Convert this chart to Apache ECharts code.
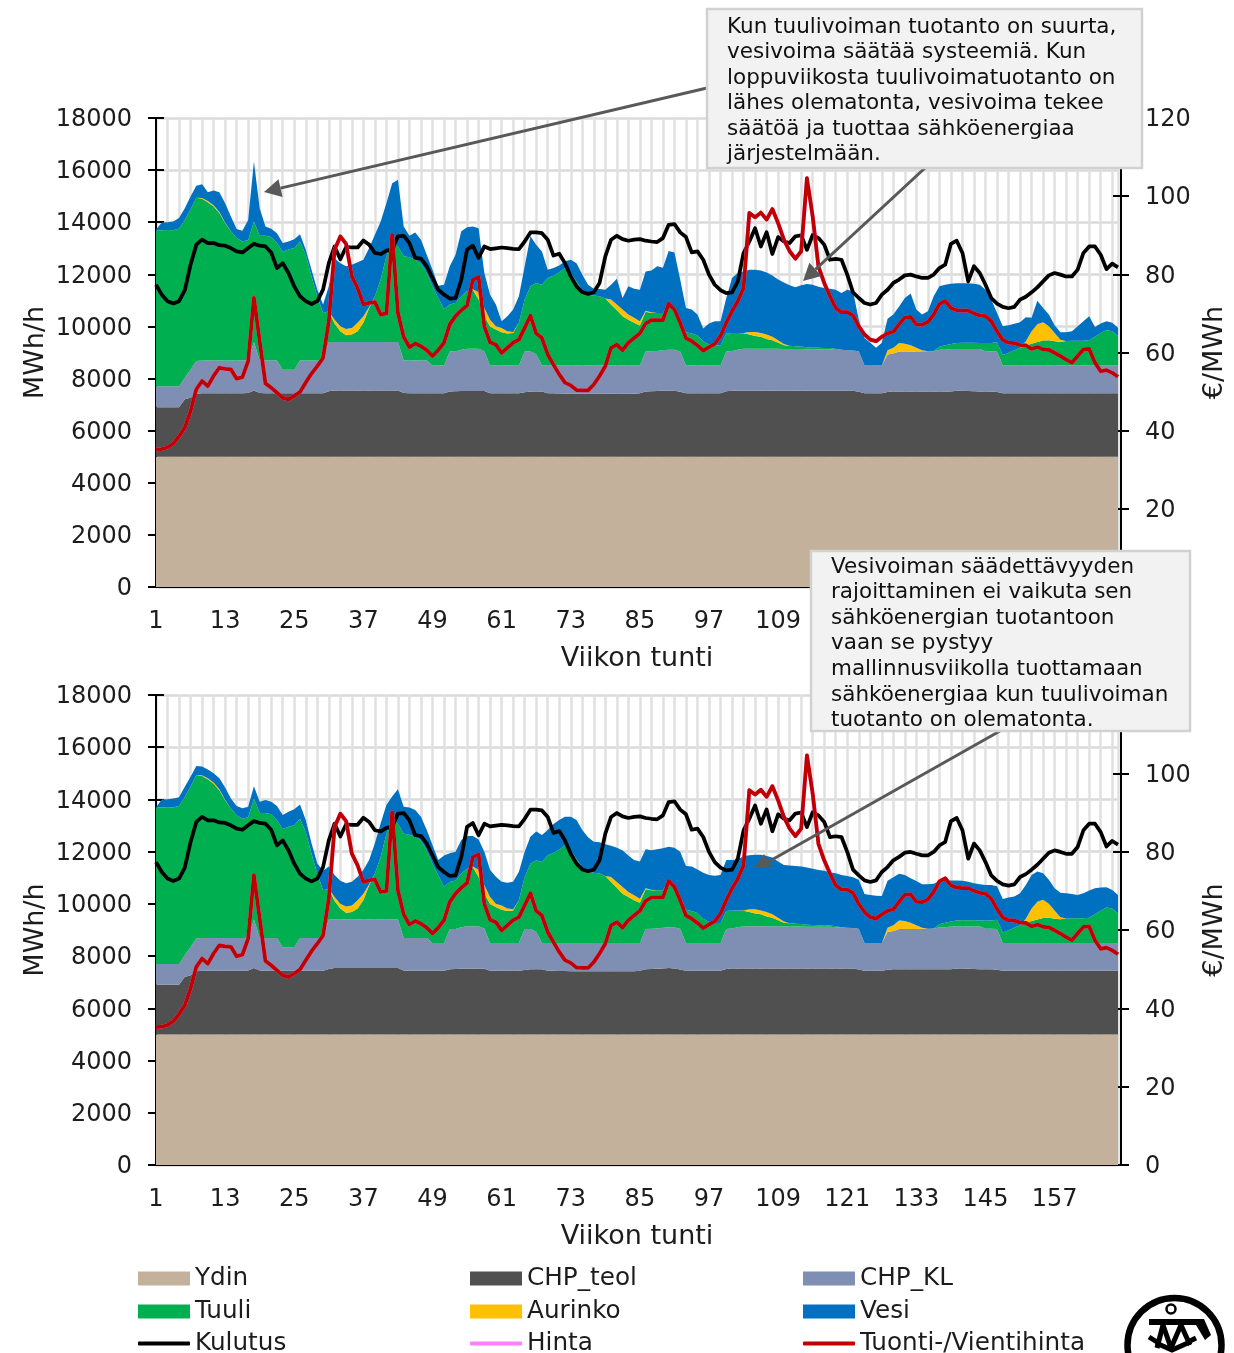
<!DOCTYPE html>
<html><head><meta charset="utf-8">
<style>html,body{margin:0;padding:0;background:#fff;overflow:hidden}#c{width:1234px;height:1353px}</style>
<script src="https://cdn.jsdelivr.net/npm/echarts@6/dist/echarts.min.js"></script>
</head><body><div id="c"></div>
<script>
const hours = Array.from({length:168},(_,i)=>String(i+1));
const ydin = new Array(168).fill(5000);
const teolTop = [
6900,6900,6900,6900,6900,7210,7260,7420,7440,7440,
7440,7440,7440,7440,7440,7440,7450,7540,7450,7440,
7440,7440,7440,7440,7440,7440,7440,7440,7440,7440,
7510,7540,7540,7540,7540,7540,7540,7540,7540,7540,
7540,7540,7540,7450,7440,7440,7440,7440,7440,7440,
7440,7500,7510,7520,7520,7520,7520,7520,7440,7440,
7440,7440,7440,7440,7470,7500,7500,7500,7440,7440,
7430,7430,7420,7420,7420,7420,7420,7420,7420,7420,
7420,7420,7420,7420,7440,7500,7510,7520,7530,7540,
7530,7490,7440,7440,7440,7440,7440,7440,7440,7510,
7530,7530,7530,7530,7530,7530,7530,7530,7530,7530,
7530,7530,7530,7530,7530,7530,7530,7530,7530,7530,
7530,7530,7490,7440,7440,7440,7440,7480,7500,7500,
7500,7500,7500,7500,7500,7500,7500,7500,7500,7530,
7530,7520,7510,7500,7500,7500,7480,7440,7440,7440,
7440,7440,7440,7440,7440,7440,7440,7440,7440,7440,
7440,7440,7440,7440,7440,7440,7440,7440];
const klTop = [
7700,7700,7700,7700,7700,8030,8350,8670,8690,8690,
8690,8690,8690,8690,8690,8690,8700,9400,8690,8690,
8690,8690,8340,8340,8340,8690,8690,8690,8690,8690,
9400,9400,9400,9400,9400,9400,9400,9400,9400,9400,
9400,9400,9400,8690,8690,8690,8690,8690,8500,8500,
8500,9040,9040,9110,9140,9140,9140,9050,8500,8500,
8500,8500,8500,8500,9040,9040,8930,8500,8500,8500,
8500,8500,8500,8500,8500,8500,8500,8500,8500,8500,
8500,8500,8500,8500,8500,9040,9050,9060,9090,9110,
9110,9040,8500,8500,8500,8500,8500,8500,8500,9040,
9060,9110,9140,9140,9140,9140,9140,9140,9140,9130,
9130,9130,9130,9120,9120,9120,9120,9120,9110,9110,
9090,9080,9050,8500,8500,8500,8500,8920,8960,9040,
9040,9040,9040,9050,9050,9050,9110,9110,9130,9130,
9130,9130,9130,9130,9050,9050,9040,8500,8500,8500,
8500,8500,8500,8500,8500,8500,8500,8500,8500,8500,
8500,8500,8500,8500,8500,8500,8500,8500];
const tuuliTop = [
13690,13690,13700,13690,13760,14090,14500,14940,14900,14770,
14600,14350,13970,13650,13390,13260,13320,14030,13480,13480,
13430,13200,12870,12950,13010,13260,12750,11920,11160,10520,
10580,10110,9820,9660,9690,9820,10140,10710,11160,11800,
12690,13320,13070,12690,12660,12560,12430,12050,11540,11090,
10670,10840,10900,11160,11350,11410,11030,10390,10000,9880,
9780,9730,9750,10140,11030,11540,11670,11600,11860,11950,
12080,12240,12050,11730,11410,11220,11190,11160,11070,10840,
10620,10390,10260,10140,10040,10560,10520,10520,10520,10900,
10670,10140,9780,9730,9650,9430,9310,9270,9270,9730,
9750,9750,9740,9690,9630,9600,9520,9470,9370,9280,
9260,9240,9230,9200,9190,9180,9170,9170,9140,9110,
9090,9080,9050,8500,8500,8500,8500,8880,8960,9040,
9040,9040,9040,9050,9050,9060,9220,9280,9330,9360,
9370,9370,9370,9360,9360,9360,9390,8900,8990,9090,
9180,9270,9340,9400,9460,9470,9430,9410,9440,9450,
9450,9450,9470,9600,9750,9860,9820,9630];
const aurinko = [
0,0,0,0,0,0,0,0,30,40,
50,40,20,0,0,0,0,0,0,0,
0,0,0,0,0,0,0,0,0,0,
0,150,190,240,250,320,250,40,0,0,
0,0,0,0,0,0,0,0,0,0,
0,0,0,0,0,20,280,320,260,130,
160,90,40,0,0,0,0,0,0,0,
0,0,0,0,0,0,0,0,0,190,
220,260,200,190,160,40,20,0,0,0,
0,0,0,0,0,0,0,0,0,0,
0,0,10,100,160,150,170,130,100,50,
0,0,0,0,0,0,0,0,0,0,
0,0,0,0,0,0,0,170,220,320,
300,240,140,40,0,0,0,0,0,0,
0,0,0,0,0,0,0,0,0,0,
0,160,480,680,700,540,320,80,0,0,
0,0,0,0,0,0,0,0];
const vesiTopA = [
13720,13990,14000,14030,14160,14540,14990,15400,15460,15150,
15220,15150,14730,14220,13740,13670,14090,16330,14540,13840,
13750,13580,13200,13260,13350,13540,12940,12180,11410,10840,
11540,12620,12430,12310,12370,12460,12560,13010,13520,14030,
14730,15500,15630,13840,13480,13610,13330,12750,12180,11560,
11600,12310,12750,13650,13810,13840,13770,12050,11220,10840,
10200,10390,10650,11160,12310,13460,13140,12880,12180,12240,
12340,12500,12560,12430,11990,11600,11450,11440,11410,11600,
11830,11090,11540,11450,11410,12110,12150,12310,12250,12900,
12840,11800,10710,10650,10460,9920,10110,10200,10200,11090,
11860,12050,12110,12180,12180,12150,12070,11960,11800,11690,
11580,11500,11580,11630,11600,11520,11480,11450,11410,11280,
11410,11350,10260,9560,9370,9180,9370,10260,10460,10770,
11090,11260,10650,10460,10580,11160,11540,11600,11640,11660,
11660,11660,11640,11600,11410,11030,10520,10010,10050,10100,
10160,10350,10330,10990,10710,10460,10050,9780,9780,9820,
10010,10200,10390,9980,10110,10200,10140,9950];
const vesiTopB = [
13700,14000,14010,14040,14080,14490,14870,15280,15260,15150,
15000,14810,14460,14040,13750,13660,13720,14510,13910,13980,
13910,13750,13400,13530,13620,13810,13210,12320,11550,11270,
11430,11110,10890,10790,10850,11040,11300,11680,12320,13090,
13790,14110,14390,13720,13690,13600,13340,12830,12260,11680,
11850,11940,12000,12450,12600,12600,12470,12000,11300,11040,
10850,10810,10850,11230,12000,12570,12770,12640,12830,13060,
13210,13340,13340,13210,12830,12550,12380,12360,12280,12230,
12150,12040,11850,11680,11620,12090,12050,12090,12130,12190,
12150,12000,11450,11430,11320,11190,11110,11080,11110,11680,
11680,11700,11830,11860,11880,11880,11830,11780,11620,11490,
11470,11450,11430,11390,11350,11300,11270,11210,11170,11110,
11070,11020,10920,10380,10340,10310,10300,10850,11020,11150,
11110,10980,10880,10750,10750,10770,10880,10900,10900,10900,
10890,10850,10790,10750,10720,10720,10680,10190,10240,10280,
10410,10720,11110,11240,11170,10920,10600,10430,10410,10380,
10340,10410,10510,10600,10630,10640,10530,10340];
const kulutus = [
11600,11220,10970,10880,10970,11390,12370,13140,13330,13200,
13200,13120,13100,13010,12880,12840,13010,13170,13100,13070,
12840,12240,12430,12050,11540,11160,10970,10860,10970,11410,
12430,13070,12580,13050,13030,13030,13300,13140,12820,12780,
12910,12950,13460,13480,13200,12630,12600,12310,11860,11410,
11220,11070,11090,11800,12950,13100,12630,13070,12970,13000,
13030,13010,12980,12970,13260,13610,13610,13580,13330,12720,
12790,12430,11920,11540,11320,11250,11310,11670,12690,13330,
13480,13350,13290,13330,13350,13290,13260,13240,13390,13900,
13930,13610,13430,12840,12880,12560,11990,11600,11390,11280,
11310,11730,12820,13260,13770,13070,13620,12780,13430,13260,
13200,13460,13500,12940,13510,13390,13140,12560,12590,12560,
11990,11310,11090,10900,10840,10900,11220,11410,11670,11800,
11960,11990,11920,11860,11860,11990,12240,12370,13170,13290,
12820,11730,12310,12050,11600,11090,10880,10750,10700,10750,
11030,11140,11310,11500,11730,11960,12050,11990,11920,11920,
12180,12820,13070,13070,12750,12200,12410,12270];
const tuontiHinta = [
35.2,35.3,35.7,36.7,38.5,40.8,45,50.6,52.7,51.4,
54,56.1,55.8,55.7,53.3,53.7,57.8,74,62.9,52.1,
51,49.7,48.4,48,48.9,49.9,52.3,54.6,56.5,58.6,
68,86.3,89.7,87.8,79.5,76.5,72.3,72.7,72.9,69.7,
70,90.1,70.1,64,61.4,62.3,61.6,60.6,59.1,60.6,
62.5,67.2,69.3,70.8,72,78.6,79.3,66.7,62.6,62,
59.9,61.2,62.5,63.3,66.3,69.4,64.9,63.7,59.5,56.9,
54.4,52.3,51.6,50.4,50.3,50.3,51.8,54,56.5,61.2,
62,60.6,62.5,63.7,64.9,67.4,68.3,68.3,68.3,72.5,
71,67.6,63.7,62.9,61.8,60.5,61.4,62.2,64.2,67.6,
70.6,73.1,76.5,95.7,94.6,95.8,94,96.7,93.1,88.9,
85.9,84,85.9,104.6,94.8,82,77.8,74.4,71.4,70.3,
70.3,69.5,66.7,64.6,63.3,62.9,64,64.9,65.3,67.2,
69,69.1,67.2,67.1,67.8,69.7,72.4,73.2,71.4,70.8,
70.7,70.7,70,69.5,69.3,68,65.4,63.2,62.5,62.4,
61.9,61.8,60.9,61.4,60.8,60.7,59.9,59.1,58.2,57.4,
59.1,60.8,60.9,57.4,55.2,55.5,54.8,53.8];
const hinta = tuontiHinta;

const note1 = ['Kun tuulivoiman tuotanto on suurta,','vesivoima säätää systeemiä. Kun','loppuviikosta tuulivoimatuotanto on','lähes olematonta, vesivoima tekee','säätöä ja tuottaa sähköenergiaa','järjestelmään.'];
const note2 = ['Vesivoiman säädettävyyden','rajoittaminen ei vaikuta sen','sähköenergian tuotantoon','vaan se pystyy','mallinnusviikolla tuottamaan','sähköenergiaa kun tuulivoiman','tuotanto on olematonta.'];

const FONT='"DejaVu Sans", Verdana, sans-serif', INK='#1c1c1c';
const diff=(a,b)=>a.map((v,i)=>Math.max(0,v-b[i]));
const chpTeol=diff(teolTop,ydin), chpKL=diff(klTop,teolTop), tuuli=diff(tuuliTop,klTop);
const aurinkoTop=tuuliTop.map((v,i)=>v+aurinko[i]);
const vesiA=diff(vesiTopA,aurinkoTop), vesiB=diff(vesiTopB,aurinkoTop);

const grids=[{left:156,width:962,top:118,height:469,outerBoundsMode:'none'},{left:156,width:962,top:695,height:470,outerBoundsMode:'none'}];
const xAxes=grids.map((g,i)=>({type:'category',gridIndex:i,data:hours,boundaryGap:false,
  name:'Viikon tunti',nameLocation:'middle',nameGap:58,nameMoveOverlap:false,nameTextStyle:{fontFamily:FONT,fontSize:27,color:INK},
  axisLine:{onZero:false,lineStyle:{color:'#000',width:2}},axisTick:{show:false},
  axisLabel:{interval:11,margin:23,fontFamily:FONT,fontSize:24,color:INK},
  splitLine:{show:true,interval:(idx)=>idx%2===0||idx===167,lineStyle:{color:'#e0e0e0',width:2.5}}}));
const yLabel={margin:24,fontFamily:FONT,fontSize:24,color:INK,formatter:v=>String(v),verticalAlign:'top',lineHeight:4};
const yAxes=[];
grids.forEach((g,i)=>{
  const common={type:'value',gridIndex:i,min:0};
  yAxes.push({...common,position:'left',max:18000,interval:2000,name:'MWh/h',nameLocation:'middle',nameGap:107,nameMoveOverlap:false,
    nameTextStyle:{fontFamily:FONT,fontSize:27,color:INK},
    axisLine:{show:true,lineStyle:{color:'#000',width:2}},axisTick:{show:true,length:8,lineStyle:{color:'#000',width:2}},
    axisLabel:yLabel,splitLine:{show:true,lineStyle:{color:'#dadada',width:2.5}}});
  yAxes.push({...common,position:'right',offset:3,max:120,interval:20,name:'€/MWh',nameLocation:'middle',nameGap:80,nameMoveOverlap:false,
    nameTextStyle:{fontFamily:FONT,fontSize:27,color:INK},
    axisLine:{show:true,lineStyle:{color:'#000',width:2}},axisTick:{show:true,length:8,lineStyle:{color:'#000',width:2}},
    axisLabel:yLabel,splitLine:{show:false}});
  yAxes.push({...common,position:'left',max:18000,interval:2000,axisLine:{show:false},
    axisTick:{show:true,inside:true,length:8,lineStyle:{color:'#000',width:2}},axisLabel:{show:false},splitLine:{show:false}});
  yAxes.push({...common,position:'right',offset:3,max:120,interval:20,axisLine:{show:false},
    axisTick:{show:true,inside:true,length:8,lineStyle:{color:'#000',width:2}},axisLabel:{show:false},splitLine:{show:false}});
});
function area(name,color,data,g){return {name,type:'line',stack:'s'+g,xAxisIndex:g,yAxisIndex:g*4,data,showSymbol:false,symbol:'none',
  lineStyle:{width:0,color},itemStyle:{color},areaStyle:{color,opacity:1},silent:true,z:2};}
function line(name,color,data,g,ax,z){return {name,type:'line',xAxisIndex:g,yAxisIndex:g*4+ax,data,showSymbol:false,symbol:'none',
  lineStyle:{width:3.75,color,join:'round'},itemStyle:{color},silent:true,z};}
const series=[];
[vesiA,vesiB].forEach((v,g)=>{
  series.push(area('Ydin','#c4b19c',ydin,g),area('CHP_teol','#505050',chpTeol,g),area('CHP_KL','#7f8fb3',chpKL,g),
    area('Tuuli','#00b050',tuuli,g),area('Aurinko','#ffc000',aurinko,g),area('Vesi','#0070c0',v,g),
    line('Kulutus','#000000',kulutus,g,0,5),line('Hinta','#ff80ff',hinta,g,1,6),line('Tuonti-/Vientihinta','#c00000',tuontiHinta,g,1,7));
});
const legendCols=[138,470,803], legendRows=[1277,1310,1342];
const legendItems=[['Ydin','CHP_teol','CHP_KL'],['Tuuli','Aurinko','Vesi'],['Kulutus','Hinta','Tuonti-/Vientihinta']];
const legends=[];
legendItems.forEach((row,r)=>row.forEach((n,c)=>{
  const isLine=r===2, h=isLine?4:14;
  legends.push({left:legendCols[c],top:legendRows[r]-15,padding:0,height:30,itemWidth:52,itemHeight:h,selectedMode:false,
    textStyle:{fontFamily:FONT,fontSize:24.7,color:INK,lineHeight:30,padding:[3,0,0,0]},
    data:[{name:n,icon:isLine?'roundRect':'rect'}]});
}));
function arrow(x1,y1,x2,y2){
  const a=Math.atan2(y2-y1,x2-x1),L=17,W=9,c=Math.cos(a),s=Math.sin(a),bx=x2-L*c,by=y2-L*s;
  return [{type:'line',z:50,shape:{x1,y1,x2:bx,y2:by},style:{stroke:'#595959',lineWidth:3}},
   {type:'polygon',z:50,shape:{points:[[x2,y2],[bx-W*s,by+W*c],[bx+W*s,by-W*c]]},style:{fill:'#595959'}}];
}
const arrow3=[{type:'line',z:50,shape:{x1:1000,y1:731,x2:768,y2:862},style:{stroke:'#595959',lineWidth:3}},
  {type:'polygon',z:50,shape:{points:[[764,854],[755,867],[772,867]]},style:{fill:'#595959'}}];
function box(x,y,w,h,tx,ty,dy,lines){
  return [{type:'rect',z:60,shape:{x,y,width:w,height:h},style:{fill:'#f2f2f2',stroke:'#d0d2d0',lineWidth:2.5}}]
   .concat(lines.map((t,i)=>({type:'text',z:61,x:tx,y:ty+i*dy,style:{text:t,fontFamily:FONT,fontSize:21.5,fill:'#111',verticalAlign:'middle'}})));
}
const stroke=(pts,w)=>({type:'polyline',z:40,shape:{points:pts},style:{stroke:'#000',lineWidth:w,fill:'none'}});
const logo=[
 {type:'circle',z:40,shape:{cx:1174.5,cy:1345,r:47},style:{fill:'none',stroke:'#000',lineWidth:6.5}},
 {type:'circle',z:40,shape:{cx:1171,cy:1309,r:4.5},style:{fill:'none',stroke:'#000',lineWidth:2.5}},
 {type:'rect',z:40,shape:{x:1149,y:1319,width:55,height:6},style:{fill:'#000'}},
 {type:'polygon',z:40,shape:{points:[[1196,1325],[1204,1319],[1211,1335],[1205,1340]]},style:{fill:'#000'}},
 stroke([[1163,1325],[1157,1348]],5), stroke([[1163,1325],[1171,1348]],5),
 stroke([[1181,1325],[1171,1348]],5), stroke([[1181,1325],[1190,1345]],5),
 stroke([[1149,1337],[1157,1342]],5), stroke([[1196,1338],[1188,1342]],5),
 stroke([[1156,1343],[1172,1350],[1190,1342]],5)
];
const graphic=[...arrow(707,88,264,192),...arrow(925,168,803,281),...arrow3,
  ...box(707,9,435,159,727,27,25.5,note1),...box(811,551,379,180,831,567,25.6,note2),...logo];
const chart=echarts.init(document.getElementById('c'),null,{renderer:'canvas'});
chart.setOption({animation:false,backgroundColor:'#fff',grid:grids,xAxis:xAxes,yAxis:yAxes,series,
  legend:legends,graphic:{elements:graphic}});
</script></body></html>
